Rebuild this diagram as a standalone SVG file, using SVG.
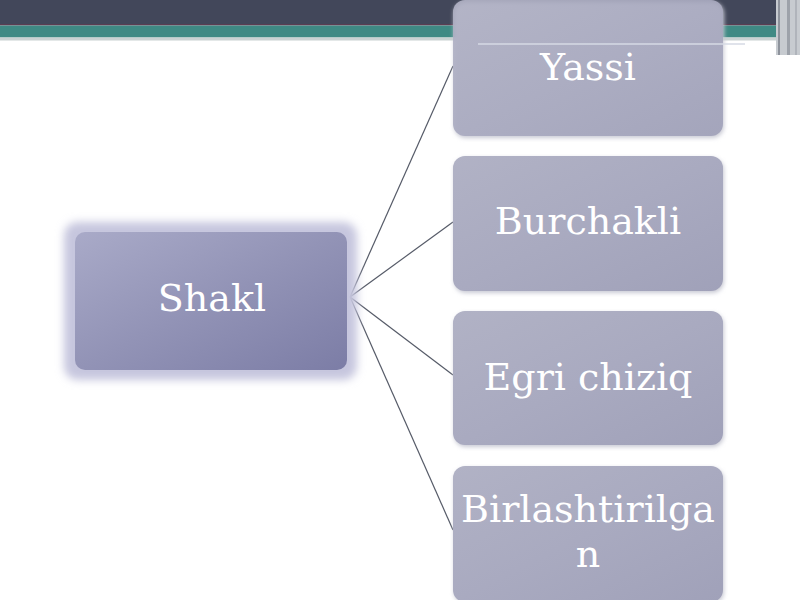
<svg xmlns="http://www.w3.org/2000/svg" width="800" height="600" viewBox="0 0 800 600">
  <defs>
    <linearGradient id="gLeft" x1="0" y1="0" x2="1" y2="1">
      <stop offset="0" stop-color="#a9aac8"/>
      <stop offset="0.5" stop-color="#9293b6"/>
      <stop offset="1" stop-color="#7c7da6"/>
    </linearGradient>
    <linearGradient id="gRight" x1="0" y1="0" x2="1" y2="1">
      <stop offset="0" stop-color="#b1b2c5"/>
      <stop offset="0.5" stop-color="#a9aac0"/>
      <stop offset="1" stop-color="#a0a1b9"/>
    </linearGradient>
    <filter id="glow" x="-20%" y="-30%" width="140%" height="160%">
      <feGaussianBlur stdDeviation="4"/>
    </filter>
    <filter id="shadow" x="-10%" y="-10%" width="120%" height="130%">
      <feGaussianBlur stdDeviation="2"/>
    </filter>
  </defs>
  <style>
    .lbl { font-family: "DejaVu Serif", "Liberation Serif", serif; font-size: 38px; fill: #ffffff; text-anchor: middle; }
    .rbox { fill: url(#gRight); }
    .conn { stroke: #565b68; stroke-width: 1.2; fill: none; }
  </style>

  <rect x="0" y="0" width="800" height="600" fill="#ffffff"/>

  <!-- top band -->
  <g id="header">
    <rect x="0" y="0" width="800" height="25" fill="#42475a"/>
    <rect x="0" y="24" width="800" height="1.5" fill="#5c3d52"/>
    <rect x="0" y="25.5" width="800" height="12" fill="#3f8a84"/>
    <rect x="0" y="37.5" width="800" height="3" fill="#c9d2d2"/>
    <rect x="776" y="0" width="24" height="55" fill="#c7cbd0"/>
    <rect x="778" y="0" width="2" height="55" fill="#8e939c"/>
    <rect x="787" y="0" width="3" height="55" fill="#9da2aa"/>
    <rect x="795" y="0" width="2" height="55" fill="#b0b4bb"/>
  </g>

  <!-- connectors -->
  <g id="connectors">
    <line class="conn" x1="350" y1="297" x2="453" y2="66"/>
    <line class="conn" x1="350" y1="297" x2="453" y2="222"/>
    <line class="conn" x1="350" y1="297" x2="453" y2="375"/>
    <line class="conn" x1="350" y1="297" x2="453" y2="530"/>
  </g>

  <!-- left node -->
  <g id="node-shakl">
    <rect x="64" y="222" width="293" height="158" rx="14" fill="#c6c6de" filter="url(#glow)"/>
    <rect x="75" y="232" width="272" height="138" rx="10" fill="url(#gLeft)"/>
    <text class="lbl" x="212" y="311">Shakl</text>
  </g>

  <!-- right nodes -->
  <g id="node-yassi">
    <rect x="454" y="2" width="270" height="136" rx="12" fill="#c8c9d4" filter="url(#shadow)"/>
    <rect x="453" y="0" width="270" height="136" rx="12" class="rbox" fill-opacity="0.9"/>
    <line x1="478" y1="44" x2="745" y2="44" stroke="#d6dae4" stroke-width="1.5"/>
    <text class="lbl" x="588" y="80">Yassi</text>
  </g>

  <g id="node-burchakli">
    <rect x="454" y="158" width="270" height="135" rx="12" fill="#c8c9d4" filter="url(#shadow)"/>
    <rect x="453" y="156" width="270" height="135" rx="12" class="rbox"/>
    <text class="lbl" x="588" y="234">Burchakli</text>
  </g>

  <g id="node-egri">
    <rect x="454" y="313" width="270" height="134" rx="12" fill="#c8c9d4" filter="url(#shadow)"/>
    <rect x="453" y="311" width="270" height="134" rx="12" class="rbox"/>
    <text class="lbl" x="588" y="390">Egri chiziq</text>
  </g>

  <g id="node-birlashtirilgan">
    <rect x="454" y="468" width="270" height="136" rx="12" fill="#c8c9d4" filter="url(#shadow)"/>
    <rect x="453" y="466" width="270" height="136" rx="12" class="rbox"/>
    <text class="lbl" x="588" y="522">Birlashtirilga<tspan x="588" y="567">n</tspan></text>
  </g>
</svg>
